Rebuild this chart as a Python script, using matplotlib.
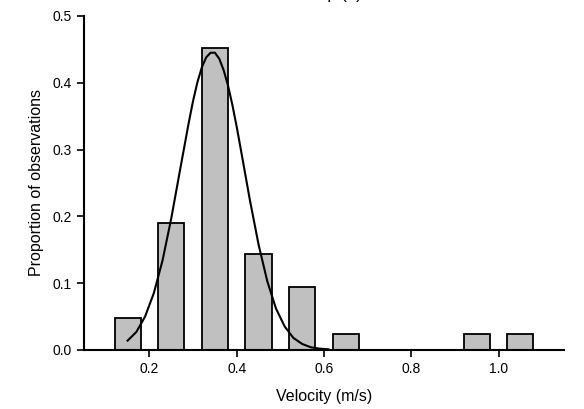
import matplotlib.pyplot as plt
import matplotlib

matplotlib.rcParams["font.family"] = ["Liberation Sans", "DejaVu Sans"]

# 直方图数据（速度区间中心, 观测比例）
bin_centers = [0.15, 0.25, 0.35, 0.45, 0.55, 0.65, 0.95, 1.05]
proportions = [0.048, 0.190, 0.452, 0.143, 0.095, 0.024, 0.024, 0.024]

# 拟合曲线（从图上读取的点）
curve_x = [0.15, 0.17, 0.19, 0.21, 0.23, 0.25, 0.27, 0.29, 0.30, 0.31, 0.32,
           0.33, 0.34, 0.35, 0.36, 0.37, 0.38, 0.39, 0.40, 0.41, 0.43, 0.45,
           0.47, 0.49, 0.51, 0.53, 0.55, 0.57, 0.59, 0.61]
curve_y = [0.014, 0.027, 0.050, 0.085, 0.134, 0.197, 0.269, 0.340, 0.373, 0.401, 0.423,
           0.438, 0.445, 0.445, 0.436, 0.419, 0.396, 0.367, 0.334, 0.298, 0.225, 0.158,
           0.103, 0.062, 0.035, 0.018, 0.009, 0.004, 0.002, 0.001]

x_ticks = [0.2, 0.4, 0.6, 0.8, 1.0]
y_ticks = [0.0, 0.1, 0.2, 0.3, 0.4, 0.5]

fig = plt.figure(figsize=(5.84, 4.09), dpi=100)
ax = fig.add_axes([0.1438, 0.1443, 0.822, 0.8166])

ax.bar(bin_centers, proportions, width=0.06, color="#c0c0c0",
       edgecolor="black", linewidth=1.3, zorder=2)
ax.plot(curve_x, curve_y, color="black", linewidth=1.5, zorder=3)

ax.set_xlim(0.05, 1.15)
ax.set_ylim(0, 0.5)
ax.set_xticks(x_ticks)
ax.set_xticklabels(["0.2", "0.4", "0.6", "0.8", "1.0"])
ax.set_yticks(y_ticks)
ax.set_yticklabels(["0.0", "0.1", "0.2", "0.3", "0.4", "0.5"])

for s in ["top", "right"]:
    ax.spines[s].set_visible(False)
for s in ["left", "bottom"]:
    ax.spines[s].set_linewidth(1.5)
ax.tick_params(direction="out", length=5, width=1.2, labelsize=10, pad=4)

ax.set_xlabel("Velocity (m/s)", fontsize=11.5, labelpad=9)
ax.set_ylabel("Proportion of observations", fontsize=11.5, labelpad=6)

# 顶部被裁掉的标题
fig.text(362 / 584, 1 + 1 / 409, "Group (b)", fontsize=12, ha="right", va="baseline")

plt.savefig("out.png", dpi=100)
